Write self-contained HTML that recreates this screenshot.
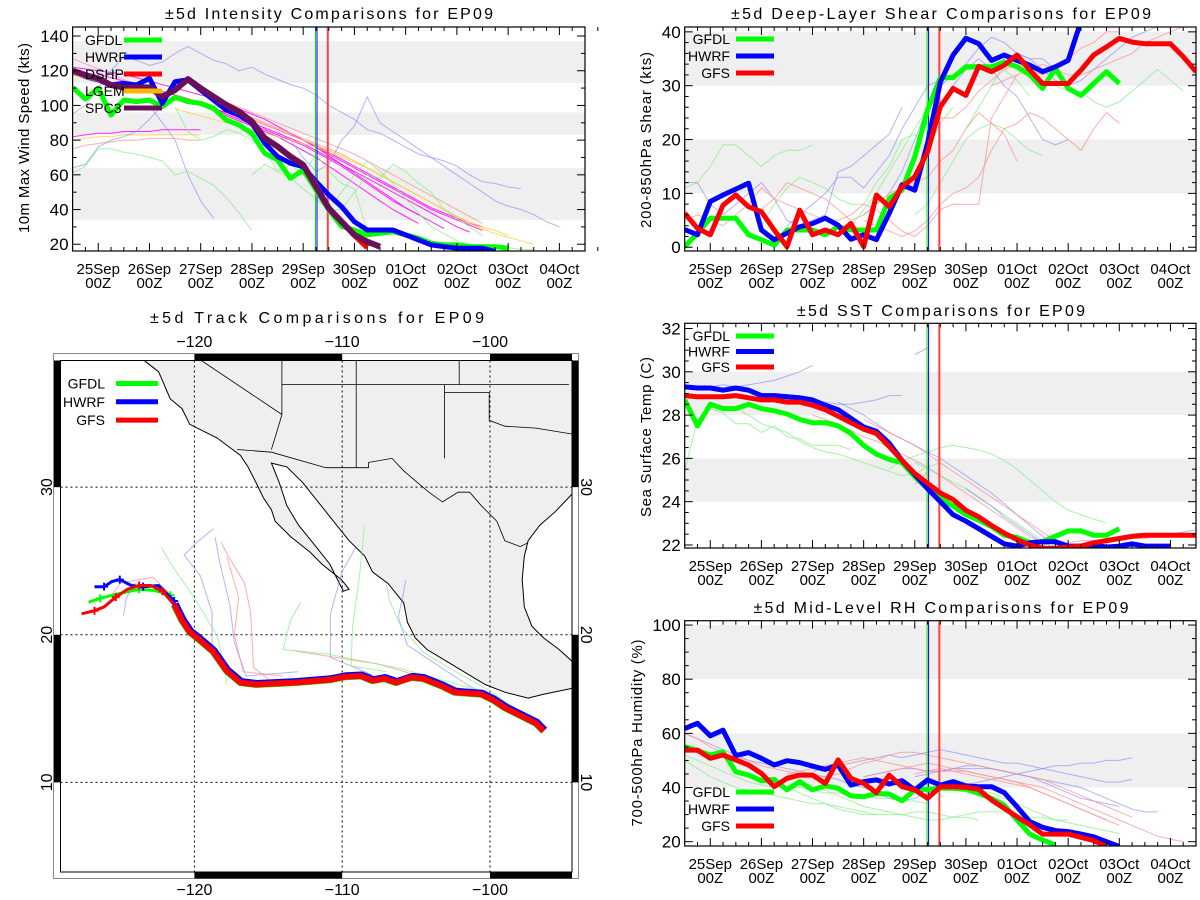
<!DOCTYPE html>
<html><head><meta charset="utf-8"><style>
html,body{margin:0;padding:0;background:#fff;}
svg{display:block;font-family:"Liberation Sans",sans-serif;}
</style></head><body>
<svg id="chart" xmlns="http://www.w3.org/2000/svg" width="1200" height="900" viewBox="0 0 1200 900"></svg>
<script>
// ---------- shared ----------
const dayLabels = ['25Sep','26Sep','27Sep','28Sep','29Sep','30Sep','01Oct','02Oct','03Oct','04Oct'];
const vLineDays = [4.24, 4.27, 4.48]; // green, blue, red reference times

// ---------- intensity ----------
const intGFDL = [110.4,103.7,109.9,94.5,103.1,102.2,103.1,99.3,104.7,102.2,101.2,98.3,91.6,88.7,83.9,72.4,68.6,58.0,62.8,51.3,39.8,30.2,28.2,25.4,26.3,27.3,25.4,23.5,20.6,19.6,19.6,18.6,18.6,18.6,17.7];
const intHWRF = [119.5,116.6,114.7,111.8,112.7,111.8,115.6,101.2,113.7,114.7,108.9,103.1,97.4,94.5,89.7,78.2,70.5,66.7,64.7,56.1,48.4,41.7,33.0,28.2,28.2,28.2,25.4,22.5,19.6,18.6,17.7,17.7,17.7,15.8];
const intDSHP = [119,117,115,112,110,110,110,105,109,115,110,105,100,96,91,81,76,71,66,54,41,33,25,18];
const intLGEM = [119,117,115,112,110,110,110,105,109,115,110,105,100,96,91,81,76,71,66,54,41,33,26];
const intSPC3 = [120,117.5,115.6,111.8,110.4,110.4,110.4,105.1,108.9,115.2,109.9,105.1,100.3,96.4,90.7,81.1,76.3,70.5,65.7,53.2,40.7,33.0,25.4,21.5,18.6];
const intThin = [
 [122,121,120,119,118,116,114,112,110,108,106,104,101,98,95,92,88,84,80,76,71,66,61,56,51,46,41,37],
 [118,116,114,112,110,108,106,103,100,97,94,91,88,85,82,78,74,70,65,60,55,50,45,40,36,32],
 [110,108,106,104,101,98,95,92,89,86,83,80,77,73,69,65,60,55,50,45,41,37,33,29],
 [104,102,100,98,96,93,90,87,84,81,78,74,70,66,62,58,54,50,46,42,38,34,30,27],
 [100,98,96,94,92,89,86,83,80,77,73,69,65,61,57,53,49,45,41,38,35,32,30],
 [96,94,92,89,86,83,80,76,72,68,64,60,56,52,48,44,40,37,34,31,28],
 [82,83,84,84,85,85,85,86,86,86,86],
 [127,124,121,118,115,112,110,108,106,104,102,100,98,96,93,90,87,84,81,78,75,72,68,64,60,56,52,48,44,40,36],
 [75,77,78,79,80,80,81,81,81,80,80],
 [108,105,102,99,96,93,90,87,84,81,78,75,72,68,64,60,56,52,48,44,40,36,32],
 [80,81,82,82,83,83,83,83,83,83,83],
 [98,96,94,92,90,88,86,84,82,80,78,76,73,70,67,64,60,56,52,48,44,40,36,32,29,26,24,22,20],
 [96,94,92,89,86,83,80,77,74,71,68,64,60,56,52,48,44,40,36,33,30,28,25],
 [95,100,110,120,128,126,123,125,130,134,130,126,124,120,122,118,115,112,110,106,100,96,92,86,84,80,76,72,70,68,65,60,56,55,53,52],
 [64,66,76,80,82,85,92,100,104,103],
 [100,90,80,60,45,35],
 [85,80,70,62,66,80,88,105,90,85,80,75,70,65,60,55,50,45,42,40,37,33,30],
 [61,65,75,75,73,72,70,68,60,62,58,54,47,38,28],
 [99,85,80,82,86,84,80,74,62,66,60,72,62,55,52,28],
 [60,66,62,58,52,46,40,40,50,60,58,66,62,55,50,40,35,30,25],
 [40,50,60,68,62,55,46,38,30,26,22,20,19,18,18,17,17]
];
const intThinStart = [-0.5,0,1.0,1.5,2.0,2.5,-0.5,-0.5,-0.5,2.0,-0.5,1.5,2.5,-0.5,-0.5,1.0,3.5,-0.5,1.5,3.0,4.5];
const intThinKind = ['m','m','m','m','m','m','m','p','p','p','y','y','y','b','b','b','b','g','g','g','g'];
const intYTicks = [20,40,60,80,100,120,140];
const intBands = [[34,64],[83,96],[113,137]];

// ---------- shear ----------
const shrGFDL = [0.1,2.6,5.4,5.4,5.4,2.3,1.4,0.4,3.2,3.2,3.2,2.3,3.8,3.2,3.2,3.2,9.1,10.6,16.8,25.5,31.5,31.5,33.5,33.5,33.5,34.4,33.5,32.0,29.5,33.2,29.5,28.2,30.4,32.6,30.4];
const shrHWRF = [3.3,2.3,8.5,9.7,10.8,11.9,3.2,1.4,2.6,3.8,4.4,5.4,4.1,1.5,2.3,1.4,6.3,11.6,10.6,19.3,30.7,35.7,38.8,37.8,34.7,35.7,34.7,33.8,32.6,33.5,34.7,42];
const shrGFS = [6.3,3.5,2.3,7.8,9.7,7.5,6.6,3.2,0.1,6.9,2.3,3.2,2.3,4.4,0.1,9.7,7.5,11.2,13.1,17.7,26.1,29.5,28.2,33.6,32.6,33.8,35.7,32.9,30.4,30.4,30.4,32.9,35.7,37.2,38.8,38.1,37.8,37.8,37.8,35.4,32.6];
const shrThin = [
 [11,12,15,19,19,17,15,17,18,18,19],
 [4,8,11,13,12,11,9,8,8,12,15,20,21,18,23,26],
 [2,4,7,10,14,18,22,26,30,32,33,33,33,33,31,28],
 [6,8,12,16,20,22,23,22,20,18,17],
 [22,26,30,34,35,33,31,30,29,29,27,26,27,29,31,33,31,29],
 [12,12,8,6,8,10,12,9,5,4,5,6,14,15,17,19,21,26],
 [4,6,8,10,13,13,11,14,17,22,26,30,31,32],
 [6,8,10,14,20,26,30,32,34,37,39,38,36,35,35,33],
 [26,30,33,35,33,30,28,24,20,19,20],
 [33,35,36,35,33,31,30,31,33,35,37,39,40,41],
 [5,6,5,4,6,8,11,9,8,7,6,5,5,6,8,7,5,3,2,4,7,8,8,8,24,28,32],
 [7,9,12,11,10,9,7,5,6,8,10,11,12,13,16,18,22,25,23,21,16],
 [5,4,3,2,3,5,8,10,11,13,18,22,23,25,24,22,20,18,22,25,23],
 [24,24,26,29,31,33,34,33,32,33,35,37,38,40,40],
 [30,31,32,33,34,33,32,32,33,34,35,36,38,39,40,41]
];
const shrThinStart = [-0.5,1.0,2.5,4.0,5.0,-0.5,1.5,3.0,4.5,5.5,-0.5,1.0,3.0,4.5,5.5];
const shrThinKind = ['g','g','g','g','g','b','b','b','b','b','p','p','p','p','p'];
const shrYTicks = [0,10,20,30,40];
const shrBands = [[10,20],[30,40]];

// ---------- SST ----------
const sstGFDL = [28.7,27.5,28.5,28.3,28.3,28.5,28.3,28.2,28.05,27.8,27.65,27.65,27.5,27.15,26.6,26.2,25.95,25.8,25.15,24.6,24.15,23.8,23.4,23.15,22.85,22.45,22.35,22.1,22.15,22.4,22.65,22.65,22.45,22.45,22.75];
const sstHWRF = [29.3,29.25,29.25,29.15,29.25,29.15,28.9,28.9,28.85,28.8,28.7,28.45,28.25,27.85,27.45,27.25,26.7,25.9,25.25,24.6,24.0,23.4,23.1,22.75,22.4,22.05,21.95,22.1,22.15,22.15,21.95,21.95,22.0,21.9,21.95,22.05,21.95,21.95,21.95];
const sstGFS = [28.9,28.85,28.85,28.85,28.9,28.8,28.7,28.7,28.6,28.6,28.45,28.25,27.95,27.65,27.35,27.15,26.55,25.9,25.3,24.85,24.4,24.1,23.6,23.3,22.9,22.55,22.25,22.0,21.85,21.85,21.9,21.95,22.1,22.2,22.3,22.4,22.45,22.45,22.45,22.45,22.45];
const sstThin = [
 [25.4,27.8,28.3,28.1,27.6,27.6,27.2,27.5,27.0,26.9,26.6,26.6,26.6,26.4],
 [28.3,28.0,27.6,27.4,27.2,26.8,26.5,26.3,26.2,26.0,25.8,25.6,25.4,25.2,25.3,25.6,25.8],
 [25.5,25.9,26.1,26.3,26.5,26.6,26.5,26.4,26.2,25.9,25.5,25.0,24.5,24.0,23.6,23.4,23.2,23.0],
 [25.8,25.5,25.2,24.9,24.6,24.2,23.8,23.4,23.0,22.6,22.2,21.8],
 [29.2,29.3,29.3,29.4,29.3,29.4,29.5,29.6,29.8,30.0,30.3],
 [28.9,28.8,28.8,28.7,28.7,28.6,28.5,28.5,28.6,28.7,28.9,28.9],
 [28.6,28.3,28.0,27.6,27.2,26.9,26.6,26.3,26.0,25.6,25.2,24.8,24.4,23.9,23.4,22.9,22.4,22.0],
 [30.8,31.1],
 [24.6,24.2,23.8,23.3,22.9,22.5,22.1],
 [22.0,22.0,22.1,22.1,22.2,22.3,22.4,22.4,22.5,22.6,22.7,22.8],
 [28.0,27.8,27.6,27.3,27.0,26.8,26.5,26.2,25.9,25.6,25.2,24.8,24.4,24.0,23.6,23.2,22.8,22.4,22.1],
 [27.8,27.5,27.2,26.9,26.6,26.2,25.8,25.4,25.0,24.6,24.2,23.8,23.4,23.0,22.6,22.2],
 [24.8,25.4],
 [22.0,22.1,22.1,22.2,22.2,22.2,22.3,22.3,22.3,22.4,22.4,22.4,22.5]
];
const sstThinStart = [-0.5,0.5,3.5,4.0,-0.5,1.0,2.5,4.0,5.0,7.0,2.0,3.0,4.0,6.5];
const sstThinKind = ['g','g','g','g','b','b','b','b','b','b','p','p','p','p'];
const sstYTicks = [22,24,26,28,30,32];
const sstBands = [[24,26],[28,30]];

// ---------- RH ----------
const rhGFDL = [55.1,53.6,52,53.2,45.8,44.6,42.5,43,39.1,42.2,39.1,40.6,39.7,36.9,36.6,37.8,37.6,35.1,39.1,39.3,39.7,39.7,39.3,37.8,36,33.5,28,22.8,20.6,18.8];
const rhHWRF = [61.8,63.7,59.1,61.2,51.8,52.9,50.8,48.3,49.9,49.2,47.9,46.7,48.3,40.9,42.2,42.8,41.3,42.5,39.1,42.8,40.9,42.2,40.6,40.3,40.3,38.1,32.9,27.4,25.3,24.1,23.7,22.8,21.8,20,18.2];
const rhGFS = [53.8,53.8,50.8,52,50.2,48.3,45.2,40.3,43.4,44.6,44.6,41.5,50.2,43.4,41.5,38.1,44.6,40.3,39.1,36,40.3,40.3,40.1,39.3,35.4,32.3,29.2,26.2,22.8,22.8,22.8,21.6,20.4,18.2];
const rhThin = [
 [52,50,48,46,44,42,41,40,40,40,39,38,38,37,37,36,36,35,35,34],
 [50,47,44,42,40,39,38,37,36,35,34,34,33,32,31,30],
 [42,41,40,38,36,34,32,31,30,30,30,30,31,31,30,29,29,28],
 [40,39,37,35,33,32,31,30,29,28,28,29,30,31,31,31,30,29,29,28,28],
 [38,39,40,41,40,39,38,36,34,32,30,28,27,26,25,24,23],
 [60,58,56,54,52,50,49,48,47,46,45,44,43,41,40,38,36,35,36,38,40,41,41,42,43,44,45,46,47,48,48,49,49,50,50,51],
 [46,47,48,49,50,51,52,51,52,53,54,53,52,51,50,49,49,48,47,46,45,44,43,42,42,43],
 [44,45,46,47,47,46,46,47,47,47,47,46,45,44,43,42,41,40,38,36,34,32,31,31],
 [44,45,46,47,48,48,47,46,45,44,42,40,38,36,35,34,33],
 [60,58,55,53,51,50,48,47,46,45,44,44,45,47,49,50,52,53,53,52,51,50,49,48,47,46,45,44,43,41,39,37,35,33,31,29],
 [45,46,47,48,49,50,51,50,49,48,47,46,46,46,46,45,44,43,42,40,38,36,34,32,30,28],
 [44,45,46,47,48,49,48,47,46,45,44,43,42,41,40,38,36,34,32,30,28,26,24,22,21,20],
 [45,46,47,46,45,44,43,42,41,40,38,36,34,32,30,28,26]
];
const rhThinStart = [-0.5,-0.5,1.0,2.0,4.0,-0.5,2.0,3.0,4.0,-0.5,1.5,3.0,4.0];
const rhThinKind = ['g','g','g','g','g','b','b','b','b','p','p','p','p'];
const rhYTicks = [20,40,60,80,100];
const rhBands = [[40,60],[80,100]];

// ---------- track (lon, lat) ----------
const trkShared = [[-96.37,13.47],[-96.89,14.0],[-97.95,14.53],[-99.0,15.05],[-99.79,15.58],[-100.58,15.97],[-101.63,16.05],[-102.42,16.11],[-103.21,16.5],[-104.53,17.03],[-105.32,17.11],[-106.37,16.76],[-107.16,17.03],[-107.95,16.89],[-108.74,17.21],[-109.79,17.16],[-110.84,16.95],[-112.16,16.84],[-113.21,16.76],[-114.79,16.68],[-115.84,16.63],[-116.89,16.76],[-117.82,17.55],[-118.74,18.87],[-119.66,19.66],[-120.32,20.18],[-120.84,20.97],[-121.37,22.03]];
const trkGFDLTail = [[-121.37,22.03],[-121.63,22.68],[-122.68,23.0],[-123.74,23.08],[-125.32,22.74],[-126.37,22.47],[-127.16,22.21]];
const trkHWRFTail = [[-121.37,22.03],[-121.37,22.29],[-122.42,23.34],[-123.47,23.26],[-124.26,23.34],[-125.05,23.74],[-125.58,23.61],[-126.11,23.26],[-126.76,23.26]];
const trkGFSTail = [[-121.37,22.03],[-122.16,22.95],[-122.95,23.34],[-123.74,23.34],[-124.53,23.08],[-125.32,22.55],[-126.11,21.89],[-126.76,21.63],[-127.63,21.42]];
const trkThin = [
 [[-96.4,13.9],[-99,15.3],[-101.5,16.6],[-103.5,17.9],[-105.6,19.3],[-106.2,21.2],[-105.9,22.6],[-105.7,23.7]],
 [[-96.5,13.7],[-100,16.2],[-102.5,17.6],[-104.5,18.8],[-106,20.5],[-106.8,22.3],[-107,23.4]],
 [[-108,17.3],[-110.8,18.47],[-110.8,21.4],[-110.0,24.3],[-109.1,25.9]],
 [[-107,17.5],[-109.4,17.9],[-109.3,20.5],[-108.8,24.2],[-108.5,27.4]],
 [[-99,15.3],[-103,16.7],[-107.5,18.0],[-113.2,18.9]],
 [[-101,16.3],[-106,17.7],[-111,18.7],[-114.0,19.0],[-113.5,21],[-112.8,22.2]],
 [[-113,17.5],[-116.5,17.2],[-117.3,19.5],[-117.6,22],[-118.3,25],[-118.6,26.6]],
 [[-114,17.2],[-116.7,17.5],[-117.3,20],[-117.0,22.5],[-117.8,25.3]],
 [[-115,17.0],[-116.0,17.8],[-116.2,21.5],[-116.6,23.5],[-117.8,25.5],[-118.2,26.3]],
 [[-118.8,19],[-118.8,21.5],[-119.6,24.0],[-120.7,25.4],[-119.9,26.2],[-118.7,27.2]],
 [[-117.8,16.7],[-118.0,18.0],[-118.5,20],[-120,22.5],[-121.6,24.8],[-122.2,25.9]],
 [[-120.3,20.2],[-121.4,22.5],[-122.8,23.9],[-125.0,23.5],[-125.5,22.8]],
 [[-124.8,21.3],[-124.6,22.5],[-124.0,23.5]]
];
const trkThinKind = ['b','g','b','g','p','g','b','p','p','b','g','p','b'];
const landPoly = [[-123.34,38.58],[-123.34,38.53],[-122.42,37.82],[-121.63,35.97],[-120.84,35.32],[-120.32,34.26],[-118.47,33.34],[-117.42,32.55],[-116.89,32.16],[-116.37,31.37],[-115.84,30.32],[-115.32,29.26],[-114.79,28.47],[-114.53,27.68],[-113.47,26.63],[-112.16,25.58],[-111.37,24.79],[-110.05,23.74],[-109.53,23.08],[-109.92,22.95],[-110.32,23.74],[-110.84,24.79],[-111.89,26.11],[-112.95,27.42],[-113.74,28.74],[-114.26,30.32],[-114.79,31.63],[-113.74,31.37],[-112.68,30.32],[-111.63,29.0],[-110.58,27.68],[-109.53,26.37],[-108.47,25.32],[-107.95,24.26],[-106.89,23.47],[-105.84,22.16],[-105.58,20.84],[-105.05,19.79],[-104.26,19.0],[-102.95,18.21],[-101.63,17.42],[-100.32,16.63],[-99.0,16.11],[-97.42,15.71],[-96.37,15.97],[-94.45,16.37],[-94.45,18.21],[-95.32,19.0],[-96.37,19.79],[-97.16,20.58],[-97.68,21.89],[-97.82,23.74],[-97.68,25.32],[-97.42,26.37],[-96.63,27.42],[-95.58,28.34],[-94.45,29.53],[-94.45,38.58]];
const borderLines = [
 [[-117.11,32.55],[-114.79,32.37],[-111.11,31.32],[-108.21,31.32],[-108.21,31.68],[-106.63,31.95],[-105.84,31.11],[-104.92,30.32],[-104.13,29.66],[-103.21,29.0],[-102.16,29.66],[-101.37,29.66],[-100.58,28.74],[-99.53,27.68],[-99.0,26.37],[-97.95,25.97],[-97.42,26.24]],
 [[-119.53,38.58],[-114.08,34.92]],
 [[-114.08,38.58],[-114.08,34.9],[-114.5,33.5],[-114.79,32.55]],
 [[-109.05,38.58],[-109.05,31.32]],
 [[-114.08,36.95],[-94.66,36.95]],
 [[-102.08,38.58],[-102.08,36.95]],
 [[-103.08,36.95],[-103.08,31.95]],
 [[-103.08,36.42],[-100.05,36.42],[-100.05,34.53],[-99,34.13],[-96.9,34.0],[-94.45,33.6]]
];
const lonTicks = [-120,-110,-100];
const latTicks = [10,20,30];

// ---------- drawing ----------
const svg = document.getElementById('chart');
const NS = 'http://www.w3.org/2000/svg';
function el(tag, parent, attrs) {
  const e = document.createElementNS(NS, tag);
  for (const k in attrs) e.setAttribute(k, attrs[k]);
  parent.appendChild(e);
  return e;
}
const KIND = {m:['#ff00ff',0.85], p:['#ff8c8c',0.7], y:['#ffd040',0.8], b:['#8080ff',0.6], g:['#80f080',0.7]};
let clipN = 0;

function timePanel(cfg) {
  const g = el('g', svg, {});
  
  
  const L = cfg.l, R = cfg.r, T = cfg.t, B = cfg.b;
  const xs = d => L + (d + 0.5) / 10 * (R - L);
  const ys = v => B - (v - cfg.y0) / (cfg.y1 - cfg.y0) * (B - T);
  const cid = 'clip' + (clipN++);
  const cp = el('clipPath', g, {id: cid});
  el('rect', cp, {x: L, y: T, width: R - L, height: B - T});
  const plot = el('g', g, {'clip-path': 'url(#' + cid + ')'});
  cfg.bands.forEach((bd, i) => {
    const r = el('rect', plot, {x: L, y: ys(bd[1]), width: R - L, height: ys(bd[0]) - ys(bd[1]), fill: '#efefef'});
    
    
  });
  const pts = (vals, start) => vals.map((v, i) => xs(start + i * 0.25).toFixed(1) + ',' + ys(v).toFixed(1)).join(' ');
  cfg.thin.forEach((vals, i) => {
    const k = KIND[cfg.thinKind[i]];
    const p = el('polyline', plot, {points: pts(vals, cfg.thinStart[i]), fill: 'none', stroke: k[0], 'stroke-opacity': k[1], 'stroke-width': 1});
    
    
  });
  const vcol = ['#00dd00', '#0000ff', '#ff4040'];
  const vw = [1, 1, 2];
  vLineDays.forEach((d, i) => {
    const ln = el('line', plot, {x1: xs(d), x2: xs(d), y1: T, y2: B, stroke: vcol[i], 'stroke-width': vw[i]});
    
    
  });
  cfg.thick.forEach(s => {
    const p = el('polyline', plot, {points: pts(s.vals, s.start), fill: 'none', stroke: s.color, 'stroke-width': s.w, 'stroke-linejoin': 'round'});
    
    
  });
  const fr = el('rect', g, {x: L, y: T, width: R - L, height: B - T, fill: 'none', stroke: '#000', 'stroke-width': 1.2});
  
  
  for (let q = -1; q <= 39; q++) {
    const d = q * 0.25; const x = xs(d); const major = (q % 4 === 0);
    const len = major ? 8 : 4;
    el('line', g, {x1: x, x2: x, y1: B, y2: B - len, stroke: '#000'});
    el('line', g, {x1: x, x2: x, y1: T, y2: T + len, stroke: '#000'});
  }
  dayLabels.forEach((lab, i) => {
    const t1 = el('text', g, {x: xs(i), y: B + 23, 'text-anchor': 'middle', 'font-size': 15});
    t1.textContent = lab;
    
    
    const t2 = el('text', g, {x: xs(i), y: B + 37, 'text-anchor': 'middle', 'font-size': 15});
    t2.textContent = '00Z';
    
    
  });
  for (let v = Math.ceil(cfg.y0 / cfg.minor) * cfg.minor; v <= cfg.y1; v += cfg.minor) {
    const y = ys(v); const major = cfg.yticks.indexOf(Math.round(v * 100) / 100) >= 0;
    const len = major ? 8 : 4;
    el('line', g, {x1: L, x2: L + len, y1: y, y2: y, stroke: '#000'});
    el('line', g, {x1: R, x2: R - len, y1: y, y2: y, stroke: '#000'});
  }
  cfg.yticks.forEach(v => {
    const t = el('text', g, {x: L - 4, y: ys(v) + 6, 'text-anchor': 'end', 'font-size': 17});
    t.textContent = v;
    
    
  });
  const tt = el('text', g, {x: cfg.titleX, y: cfg.titleY, 'text-anchor': 'middle', 'font-size': 16, textLength: cfg.titleW, lengthAdjust: 'spacing'});
  tt.textContent = cfg.title;
  
  
  const yt = el('text', g, {x: 0, y: 0, 'text-anchor': 'middle', 'font-size': 15, textLength: cfg.ytW, lengthAdjust: 'spacing', transform: 'translate(' + cfg.ytX + ',' + cfg.ytY + ') rotate(-90)'});
  yt.textContent = cfg.ytitle;
  
  
  cfg.legend.forEach((e, i) => {
    const y = cfg.legY + i * cfg.legDy;
    const lt = el('text', g, {x: cfg.legTx, y: y + 5, 'text-anchor': cfg.legAnchor, 'font-size': 14});
    lt.textContent = e[0];
    
    
    const ll = el('line', g, {x1: cfg.legL1, x2: cfg.legL2, y1: y, y2: y, stroke: e[1], 'stroke-width': 5});
    
    
  });
}

timePanel({name: 'intensity-panel', l: 72.6, r: 585, t: 27, b: 251, y0: 16.1, y1: 145.2, minor: 10,
  yticks: intYTicks, bands: intBands, thin: intThin, thinStart: intThinStart, thinKind: intThinKind,
  thick: [
    {vals: intGFDL, start: -0.5, color: '#00ff00', w: 5, name: 'gfdl-intensity-line'},
    {vals: intHWRF, start: -0.5, color: '#0000ff', w: 5, name: 'hwrf-intensity-line'},
    {vals: intDSHP, start: -0.5, color: '#ff0000', w: 5, name: 'dshp-intensity-line'},
    {vals: intLGEM, start: -0.5, color: '#ffb400', w: 5, name: 'lgem-intensity-line'},
    {vals: intSPC3, start: -0.5, color: '#6a0f5a', w: 6, name: 'spc3-intensity-line'}],
  title: '±5d Intensity Comparisons for EP09', titleX: 329, titleY: 19, titleW: 328,
  ytitle: '10m Max Wind Speed (kts)', ytX: 29, ytY: 138, ytW: 190,
  legend: [['GFDL','#00ff00'],['HWRF','#0000ff'],['DSHP','#ff0000'],['LGEM','#ffb400'],['SPC3','#6a0f5a']],
  legY: 40, legDy: 17, legTx: 85, legAnchor: 'start', legL1: 124, legL2: 162});

timePanel({name: 'shear-panel', l: 684.7, r: 1196, t: 27, b: 251, y0: -0.7, y1: 40.9, minor: 2,
  yticks: shrYTicks, bands: shrBands, thin: shrThin, thinStart: shrThinStart, thinKind: shrThinKind,
  thick: [
    {vals: shrGFDL, start: -0.5, color: '#00ff00', w: 5, name: 'gfdl-shear-line'},
    {vals: shrHWRF, start: -0.5, color: '#0000ff', w: 5, name: 'hwrf-shear-line'},
    {vals: shrGFS, start: -0.5, color: '#ff0000', w: 5, name: 'gfs-shear-line'}],
  title: '±5d Deep-Layer Shear Comparisons for EP09', titleX: 941, titleY: 19, titleW: 420,
  ytitle: '200-850hPa Shear (kts)', ytX: 651, ytY: 140, ytW: 176,
  legend: [['GFDL','#00ff00'],['HWRF','#0000ff'],['GFS','#ff0000']],
  legY: 39, legDy: 17, legTx: 730, legAnchor: 'end', legL1: 736, legL2: 774});

timePanel({name: 'sst-panel', l: 684.7, r: 1196, t: 323.3, b: 548, y0: 21.86, y1: 32.24, minor: 0.5,
  yticks: sstYTicks, bands: sstBands, thin: sstThin, thinStart: sstThinStart, thinKind: sstThinKind,
  thick: [
    {vals: sstGFDL, start: -0.5, color: '#00ff00', w: 5, name: 'gfdl-sst-line'},
    {vals: sstHWRF, start: -0.5, color: '#0000ff', w: 5, name: 'hwrf-sst-line'},
    {vals: sstGFS, start: -0.5, color: '#ff0000', w: 5, name: 'gfs-sst-line'}],
  title: '±5d SST Comparisons for EP09', titleX: 941, titleY: 316, titleW: 288,
  ytitle: 'Sea Surface Temp (C)', ytX: 651, ytY: 437, ytW: 160,
  legend: [['GFDL','#00ff00'],['HWRF','#0000ff'],['GFS','#ff0000']],
  legY: 336, legDy: 15.5, legTx: 730, legAnchor: 'end', legL1: 736, legL2: 774});

timePanel({name: 'rh-panel', l: 684.7, r: 1196, t: 620.7, b: 846, y0: 18.4, y1: 101.6, minor: 5,
  yticks: rhYTicks, bands: rhBands, thin: rhThin, thinStart: rhThinStart, thinKind: rhThinKind,
  thick: [
    {vals: rhGFDL, start: -0.5, color: '#00ff00', w: 5, name: 'gfdl-rh-line'},
    {vals: rhHWRF, start: -0.5, color: '#0000ff', w: 5, name: 'hwrf-rh-line'},
    {vals: rhGFS, start: -0.5, color: '#ff0000', w: 5, name: 'gfs-rh-line'}],
  title: '±5d Mid-Level RH Comparisons for EP09', titleX: 941, titleY: 613, titleW: 375,
  ytitle: '700-500hPa Humidity (%)', ytX: 642, ytY: 733, ytW: 187,
  legend: [['GFDL','#00ff00'],['HWRF','#0000ff'],['GFS','#ff0000']],
  legY: 792, legDy: 17, legTx: 730, legAnchor: 'end', legL1: 736, legL2: 774});

// ---------- track map ----------
(function () {
  const g = el('g', svg, {});
  
  
  const L = 60.5, R = 572, T = 360.5, B = 872;
  const lon0 = -129.06, lon1 = -94.45, lat0 = 3.93, lat1 = 38.58;
  const xs = lon => L + (lon - lon0) / (lon1 - lon0) * (R - L);
  const ys = lat => B - (lat - lat0) / (lat1 - lat0) * (B - T);
  const P = arr => arr.map(p => xs(p[0]).toFixed(1) + ',' + ys(p[1]).toFixed(1)).join(' ');
  const cp = el('clipPath', g, {id: 'mapclip'});
  el('rect', cp, {x: L, y: T, width: R - L, height: B - T});
  const m = el('g', g, {'clip-path': 'url(#mapclip)'});
  const land = el('polygon', m, {points: P(landPoly), fill: '#efefef', stroke: '#000', 'stroke-width': 1});
  
  
  borderLines.forEach(b => {
    const bl = el('polyline', m, {points: P(b), fill: 'none', stroke: '#000', 'stroke-width': 0.8});
    
    
  });
  lonTicks.forEach(lo => {
    el('line', m, {x1: xs(lo), x2: xs(lo), y1: T, y2: B, stroke: '#000', 'stroke-width': 1, 'stroke-dasharray': '2,3'});
  });
  latTicks.forEach(la => {
    el('line', m, {x1: L, x2: R, y1: ys(la), y2: ys(la), stroke: '#000', 'stroke-width': 1, 'stroke-dasharray': '2,3'});
  });
  trkThin.forEach((t, i) => {
    const k = KIND[trkThinKind[i]];
    const pl = el('polyline', m, {points: P(t), fill: 'none', stroke: k[0], 'stroke-opacity': k[1], 'stroke-width': 1});
    
    
  });
  const tracks = [
    [trkGFDLTail, '#00ff00', 'gfdl-track'],
    [trkHWRFTail, '#0000ff', 'hwrf-track'],
    [trkGFSTail, '#ff0000', 'gfs-track']];
  tracks.forEach(t => {
    const pl = el('polyline', m, {points: P(t[0]), fill: 'none', stroke: t[1], 'stroke-width': 3});
    
    
    t[0].forEach((p, i) => {
      if (i % 2 === 1) {
        const x = xs(p[0]), y = ys(p[1]);
        el('path', m, {d: 'M' + (x - 4) + ',' + y + 'h8M' + x + ',' + (y - 4) + 'v8', stroke: t[1], 'stroke-width': 2});
      }
    });
  });
  const sg = el('polyline', m, {points: P(trkShared), fill: 'none', stroke: '#00ff00', 'stroke-width': 7, 'stroke-linejoin': 'round'});
  
  
  const sb = el('polyline', m, {points: P(trkShared), fill: 'none', stroke: '#0000ff', 'stroke-width': 7, transform: 'translate(1,-1)', 'stroke-linejoin': 'round'});
  
  
  const sr = el('polyline', m, {points: P(trkShared), fill: 'none', stroke: '#ff0000', 'stroke-width': 6, 'stroke-linejoin': 'round'});
  
  
  el('rect', g, {x: 53.5, y: 353.5, width: 525, height: 525, fill: 'none', stroke: '#888', 'stroke-width': 1});
  const inner = el('rect', g, {x: L, y: T, width: R - L, height: B - T, fill: 'none', stroke: '#000', 'stroke-width': 1});
  
  
  [[-120,-110],[-100,lon1]].forEach(s => {
    el('rect', g, {x: xs(s[0]), y: 354, width: xs(s[1]) - xs(s[0]), height: 6.5, fill: '#000'});
    el('rect', g, {x: xs(s[0]), y: 872, width: xs(s[1]) - xs(s[0]), height: 6.5, fill: '#000'});
  });
  [[10,20],[30,lat1]].forEach(s => {
    el('rect', g, {x: 54, y: ys(s[1]), width: 6.5, height: ys(s[0]) - ys(s[1]), fill: '#000'});
    el('rect', g, {x: 572, y: ys(s[1]), width: 6.5, height: ys(s[0]) - ys(s[1]), fill: '#000'});
  });
  lonTicks.forEach(lo => {
    const a = el('text', g, {x: xs(lo), y: 347, 'text-anchor': 'middle', 'font-size': 16});
    a.textContent = '\u2212' + Math.abs(lo);
    
    
    const b = el('text', g, {x: xs(lo), y: 895, 'text-anchor': 'middle', 'font-size': 16});
    b.textContent = '\u2212' + Math.abs(lo);
    
    
  });
  latTicks.forEach(la => {
    const a = el('text', g, {x: 0, y: 0, 'text-anchor': 'middle', 'font-size': 16, transform: 'translate(52,' + ys(la) + ') rotate(-90)'});
    a.textContent = la;
    
    
    const b = el('text', g, {x: 0, y: 0, 'text-anchor': 'middle', 'font-size': 16, transform: 'translate(581,' + ys(la) + ') rotate(90)'});
    b.textContent = la;
    
    
  });
  const tt = el('text', g, {x: 317, y: 323, 'text-anchor': 'middle', 'font-size': 16, textLength: 334, lengthAdjust: 'spacing'});
  tt.textContent = '±5d Track Comparisons for EP09';
  
  
  [['GFDL','#00ff00'],['HWRF','#0000ff'],['GFS','#ff0000']].forEach((e, i) => {
    const y = 383.5 + i * 18.3;
    const lt = el('text', g, {x: 105, y: y + 5, 'text-anchor': 'end', 'font-size': 14});
    lt.textContent = e[0];
    
    
    const ll = el('line', g, {x1: 116, x2: 158, y1: y, y2: y, stroke: e[1], 'stroke-width': 5});
    
    
  });
})();
</script>
</body></html>
